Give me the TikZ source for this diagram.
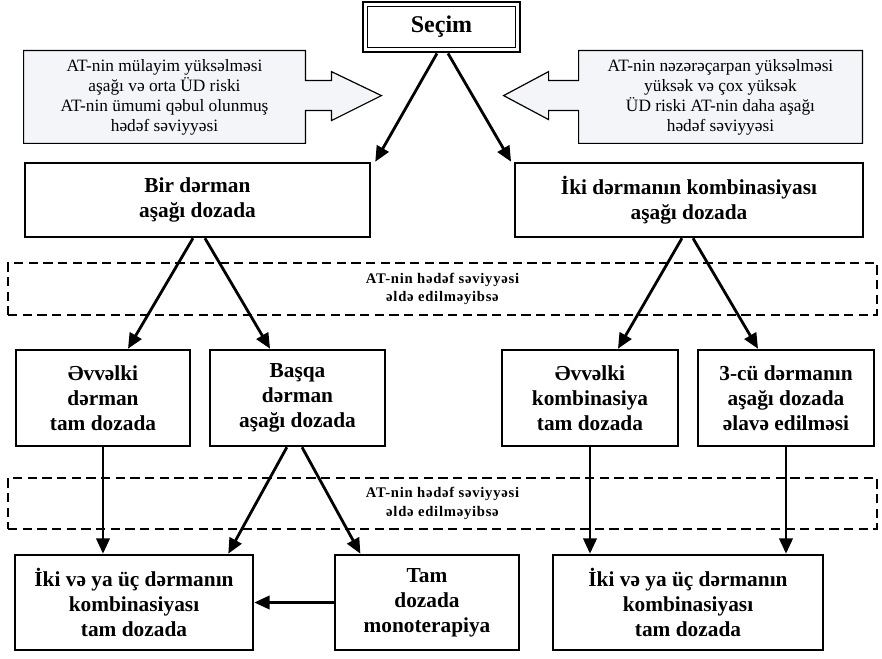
\documentclass[tikz,border=0pt]{standalone}
\usepackage{fontspec}
\setmainfont{Liberation Serif}
\newfontfamily\spacedfont[LetterSpace=5]{Liberation Serif}
\usetikzlibrary{arrows.meta, backgrounds}
\definecolor{calloutfill}{HTML}{F3F5F9}

\begin{document}
\begin{tikzpicture}[x=0.75pt, y=-0.75pt, ->, >={Triangle[length=11.5pt, width=10pt]},
    line width=2.1pt,
    box/.style={draw, line width=1.9pt, align=center, inner sep=0pt,
        font=\bfseries\fontsize{16}{18.75}\selectfont},
    dashbox/.style={draw, line width=1.4pt, dash pattern=on 7pt off 4pt, align=center,
        minimum width=651.75pt, inner sep=0pt,
        font=\spacedfont\bfseries\fontsize{11}{14}\selectfont},
    calltext/.style={align=center, inner sep=0pt, minimum height=67.5pt,
        font=\fontsize{13}{15}\selectfont},
    callshape/.style={-, draw, line width=0.9pt, fill=calloutfill}]
    \useasboundingbox (0,0) rectangle (882,659);
    %
    \node [dashbox, minimum height=39pt] (goal1) at (442.5,289) {AT-nin hədəf səviyyəsi\\əldə edilməyibsə};
    \node [dashbox, minimum height=38.25pt] (goal2) at (442.5,503.5) {AT-nin hədəf səviyyəsi\\əldə edilməyibsə};
    %
    \node [box, line width=2.2pt, minimum width=117.75pt, minimum height=37.5pt,
        font=\bfseries\fontsize{18}{20}\selectfont] (secim) at (441.5,27) {Seçim};
    \draw [-, line width=0.8pt] ([shift={(4.5pt,-4.5pt)}]secim.north west) rectangle ([shift={(-4.5pt,4.5pt)}]secim.south east);
    %
    \node [calltext, minimum width=209.25pt] (lcall) at (164.5,97) {AT-nin mülayim yüksəlməsi\\aşağı və orta ÜD riski\\AT-nin ümumi qəbul olunmuş\\hədəf səviyyəsi};
    \node [calltext, minimum width=210.75pt] (rcall) at (720.5,97) {AT-nin nəzərəçarpan yüksəlməsi\\yüksək və çox yüksək\\ÜD riski AT-nin daha aşağı\\hədəf səviyyəsi};
    \begin{scope}[on background layer]
        \draw [callshape] (lcall.north west) -- (lcall.north east) -- ++(0,30) -- ++(26,0) -- ++(0,-9)
            -- ++(50,24) -- ++(-50,25) -- ++(0,-10) -- ++(-26,0) |- (lcall.south west) -- cycle;
        \draw [callshape] (rcall.north east) -- (rcall.north west) -- ++(0,30) -- ++(-30,0) -- ++(0,-9)
            -- ++(-45,24) -- ++(45,24) -- ++(0,-9) -- ++(30,0) |- (rcall.south east) -- cycle;
    \end{scope}
    %
    \node [box, minimum width=258.75pt, minimum height=55.5pt] (bir) at (197.5,200) {Bir dərman\\aşağı dozada};
    \node [box, minimum width=261pt, minimum height=55.5pt] (iki) at (689,200) {İki dərmanın kombinasiyası\\aşağı dozada};
    %
    \node [box, minimum width=130.5pt, minimum height=72pt] (evv1) at (103,398) {Əvvəlki\\dərman\\tam dozada};
    \node [box, minimum width=131.25pt, minimum height=72pt] (basqa) at (297.5,398) {Başqa\\dərman\\aşağı dozada};
    \node [box, minimum width=132pt, minimum height=72pt] (evv2) at (590,398) {Əvvəlki\\kombinasiya\\tam dozada};
    \node [box, minimum width=132pt, minimum height=72pt] (ucuncu) at (786,398) {3-cü dərmanın\\aşağı dozada\\əlavə edilməsi};
    %
    \node [box, minimum width=178.5pt, minimum height=71.25pt] (comb1) at (134,602.5) {İki və ya üç dərmanın\\kombinasiyası\\tam dozada};
    \node [box, minimum width=138pt, minimum height=71.25pt] (tam) at (427,602.5) {Tam\\dozada\\monoterapiya};
    \node [box, minimum width=202.5pt, minimum height=71.25pt] (comb2) at (688,602.5) {İki və ya üç dərmanın\\kombinasiyası\\tam dozada};
    %
    \path ([xshift=-3.4pt]secim.south) edge ([xshift=3pt]bir.north east);
    \path ([xshift=4.9pt]secim.south) edge ([xshift=-2pt]iki.north west);
    \path ([xshift=-3.4pt]bir.south) edge ([xshift=18.75pt]evv1.north);
    \path ([xshift=5.6pt]bir.south) edge ([xshift=-20.6pt]basqa.north);
    \path ([xshift=-5.3pt]iki.south) edge ([xshift=21pt]evv2.north);
    \path ([xshift=3pt]iki.south) edge ([xshift=-21pt]ucuncu.north);
    %
    \path (evv1.south) edge (evv1.south |- comb1.north);
    \path ([xshift=-8pt]basqa.south) edge ([xshift=-19.5pt]comb1.north east);
    \path ([xshift=3.4pt]basqa.south) edge ([xshift=20pt]tam.north west);
    \path (evv2.south) edge (evv2.south |- comb2.north);
    \path (ucuncu.south) edge (ucuncu.south |- comb2.north);
    \path (tam.west) edge (comb1.east);
\end{tikzpicture}
\end{document}
